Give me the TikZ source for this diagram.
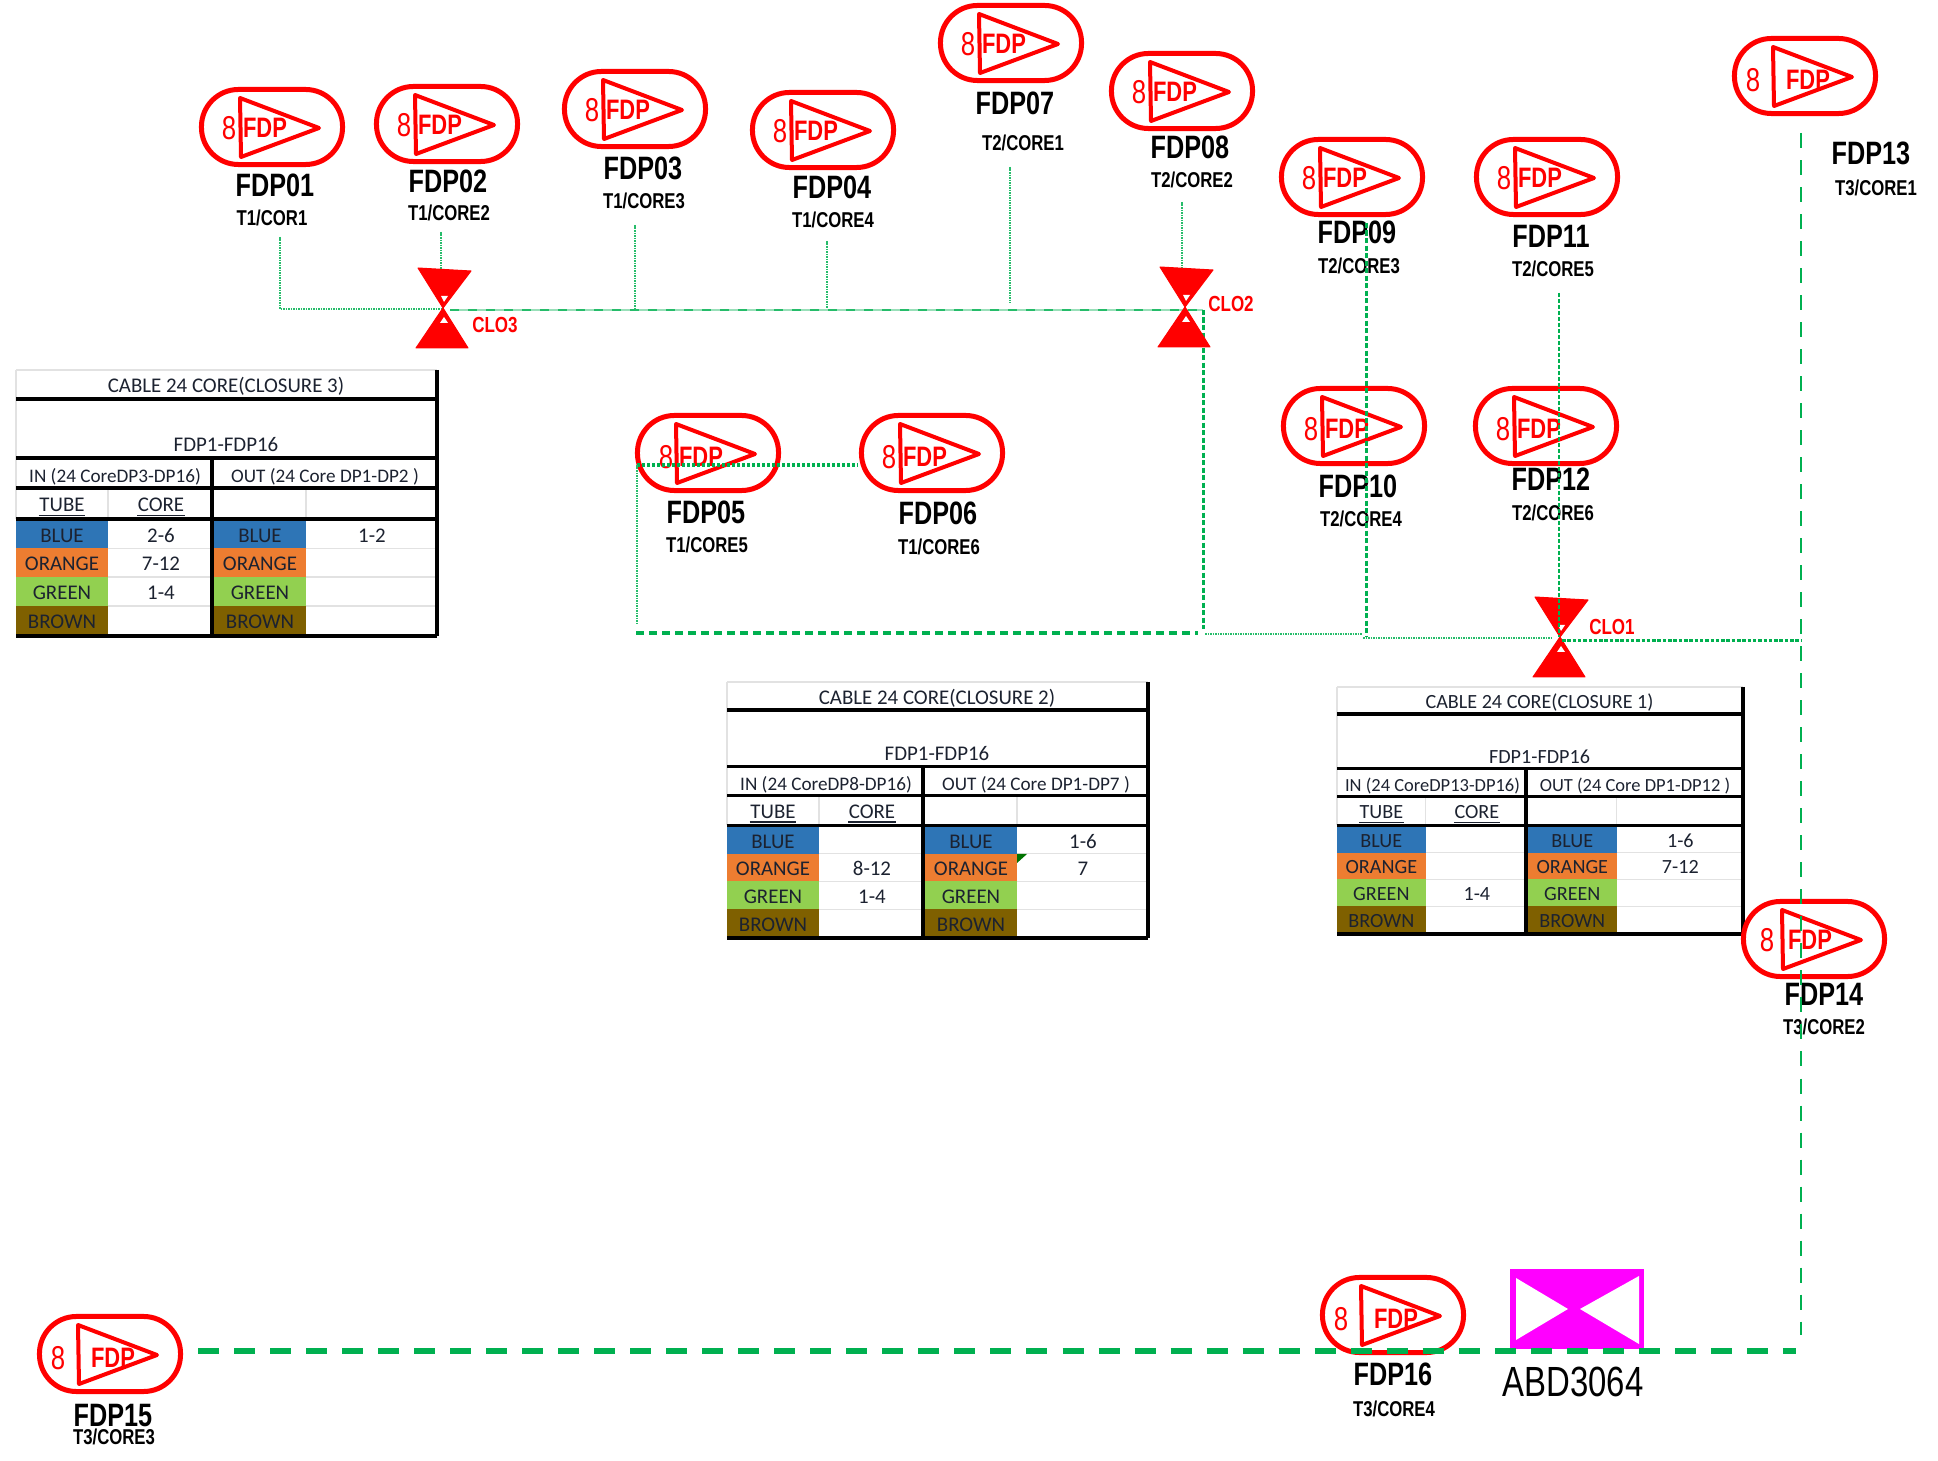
\documentclass[tikz,border=0pt]{standalone}
\usepackage{fontspec}
\setmainfont{Liberation Sans}
\newfontfamily\fdpfont[FakeStretch=0.78]{Liberation Sans}
\newfontfamily\tabfont{Carlito}
\usetikzlibrary{calc}
\definecolor{wiregreen}{RGB}{0,176,80}
\definecolor{tubeblue}{RGB}{46,117,182}
\definecolor{tubeorange}{RGB}{237,125,49}
\definecolor{tubegreen}{RGB}{146,208,80}
\definecolor{tubebrown}{RGB}{127,96,0}
\definecolor{tabtext}{RGB}{28,34,48}
\definecolor{tabgrid}{RGB}{226,226,226}
\definecolor{abdpink}{RGB}{255,0,255}
\tikzset{
    fdppill/.style={draw=red, line width=0.05cm, rounded corners=0.37cm, minimum width=1.41cm, minimum height=0.75cm, inner sep=0, outer sep=0},
    fdpmark/.style={draw=red, line width=0.04cm, line join=round},
    fdplabel/.style={font=\fdpfont\bfseries\fontsize{9.2}{10}\selectfont, inner sep=0},
    fdpsub/.style={font=\fdpfont\bfseries\fontsize{6.1}{7}\selectfont, inner sep=0},
    clolabel/.style={font=\fdpfont\bfseries\fontsize{6.2}{7}\selectfont, text=red, inner sep=0},
    finewire/.style={draw=wiregreen!85!white, line width=0.026cm, dash pattern=on 0.016cm off 0.009cm},
    basewire/.style={draw=wiregreen!40!white, line width=0.016cm},
    tapewire/.style={draw=wiregreen!85!white, line width=0.016cm, dash pattern=on 0.09cm off 0.09cm},
    dotwire/.style={draw=wiregreen, line width=0.03cm, dash pattern=on 0.05cm off 0.025cm},
    thinwire/.style={draw=wiregreen, line width=0.018cm, dash pattern=on 0.04cm off 0.02cm},
    heavywire/.style={draw=wiregreen, line width=0.045cm, dash pattern=on 0.08cm off 0.05cm},
    feedwire/.style={draw=wiregreen, line width=0.02cm, dash pattern=on 0.15cm off 0.12cm},
    trunkwire/.style={draw=wiregreen, line width=0.05cm, dash pattern=on 0.21cm off 0.15cm},
    tabline/.style={draw=black, line width=0.033cm},
    tabfaint/.style={draw=tabgrid, line width=0.012cm},
    tabcell/.style={anchor=base, inner sep=0, text=tabtext},
    tabunder/.style={draw=tabtext, line width=0.012cm},
}

% closure symbol: name, x, y
\newcommand{\closure}[3]{
    \node[inner sep=0, minimum size=0] (#1) at (#2, #3) {};
    \begin{scope}[shift={(#2, #3)}]
        \fill[red, draw=red, line width=0.01cm, line join=round] (-25,-40) -- (28,-37) -- (0,0) -- (25,40) -- (-27,40) -- (0,0) -- cycle;
        \fill[white] (-2,-12) -- (5,-12) -- (1,-6) -- cycle;
        \fill[white] (1,9) -- (5,15) -- (-3,15) -- cycle;
    \end{scope}
}

% cable table: x, y, xscale, yscale, closure, in, out, in cores, out cores
\newcommand{\cabletab}[9]{
    \begin{scope}[shift={(#1, #2)}, xscale=#3, yscale=#4]
        \pgfmathsetmacro{\tabfs}{5.94*#3}
        \pgfmathsetmacro{\tabsm}{5.45*#3}
        \tikzset{every node/.append style={font=\tabfont\fontsize{\tabfs}{\tabfs}\selectfont}}
        % colours
        \foreach \cx in {0, 198}{
            \fill[tubeblue] (\cx,149) rectangle (\cx+92,178.5);
            \fill[tubeorange] (\cx,178.5) rectangle (\cx+92,207);
            \fill[tubegreen] (\cx,207) rectangle (\cx+92,236);
            \fill[tubebrown] (\cx,236) rectangle (\cx+92,266);
        }
        % faint grid
        \draw[tabfaint] (0,0) -- (421,0) (0,0) -- (0,149);
        \draw[tabfaint] (92,118) -- (92,149) (290,118) -- (290,149);
        \foreach \ry in {178.5, 207, 236}{
            \draw[tabfaint] (92,\ry) -- (196,\ry) (290,\ry) -- (421,\ry);
        }
        % black rules
        \foreach \ry in {29, 88, 118, 149, 266}{
            \draw[tabline] (0,\ry) -- (421,\ry);
        }
        \draw[tabline] (196,88) -- (196,266) (421,0) -- (421,266);
        % texts
        \node[tabcell] (clo#5title) at (210,23) {CABLE 24 CORE(CLOSURE #5)};
        \node[tabcell] (clo#5span) at (210,82) {FDP1-FDP16};
        \node[tabcell, font=\tabfont\fontsize{\tabsm}{\tabsm}\selectfont] (clo#5in) at (99,113) {#6};
        \node[tabcell, font=\tabfont\fontsize{\tabsm}{\tabsm}\selectfont] (clo#5out) at (309,113) {#7};
        \node[tabcell] (clo#5tube) at (46,142) {TUBE};
        \node[tabcell] (clo#5core) at (145,142) {CORE};
        \draw[tabunder] ($(clo#5tube.base west)+(0,3.5)$) -- ($(clo#5tube.base east)+(0,3.5)$);
        \draw[tabunder] ($(clo#5core.base west)+(0,3.5)$) -- ($(clo#5core.base east)+(0,3.5)$);
        \foreach \tname/\ty [count=\ti] in {BLUE/173, ORANGE/201, GREEN/230, BROWN/259}{
            \node[tabcell] (clo#5a\ti) at (46,\ty) {\tname};
            \node[tabcell] (clo#5b\ti) at (244,\ty) {\tname};
        }
        \foreach \cval/\ty [count=\ti] in {#8}{
            \node[tabcell] (clo#5c\ti) at (145,\ty) {\cval};
        }
        \foreach \cval/\ty [count=\ti] in {#9}{
            \node[tabcell] (clo#5d\ti) at (356,\ty) {\cval};
        }
    \end{scope}
}

\begin{document}
\begin{tikzpicture}[x=0.01cm, y=-0.01cm]
    \useasboundingbox (0,0) rectangle (1938,1461);

    % TABLES
    \cabletab{16}{370}{1}{1}{3}{IN (24 CoreDP3-DP16)}{OUT (24 Core DP1-DP2 )}{2-6/173, 7-12/201, 1-4/230}{1-2/173}
    \cabletab{727}{682}{1}{0.9624}{2}{IN (24 CoreDP8-DP16)}{OUT (24 Core DP1-DP7 )}{8-12/201, 1-4/230}{1-6/173, 7/201}
    \cabletab{1337}{687}{0.9644}{0.9286}{1}{IN (24 CoreDP13-DP16)}{OUT (24 Core DP1-DP12 )}{1-4/230}{1-6/173, 7-12/201}
    \fill[green!45!black] (1017,854) -- (1027,854) -- (1017,863) -- cycle;

    % FDP SYMBOLS
    \foreach \name/\x/\y/\lx/\ly/\sx/\sy/\sub/\tx/\ex/\ty in {
        FDP01/272/127/275/185/272/218/T1\slash COR1/-7/-43/1,
        FDP02/447/124/448/181/449/213/T1\slash CORE2/-7/-43/1,
        FDP03/635/109/643/168/644/201/T1\slash CORE3/-7/-43/1,
        FDP04/823/130/832/187/833/220/T1\slash CORE4/-7/-43/1,
        FDP05/708/453/706/512/707/545/T1\slash CORE5/-7/-42/4,
        FDP06/932/453/938/513/939/547/T1\slash CORE6/-7/-43/4,
        FDP07/1011/43/1015/103/1023/143/T2\slash CORE1/-7/-43/1,
        FDP08/1182/91/1190/147/1192/180/T2\slash CORE2/-7/-43/1,
        FDP09/1352/177/1357/232/1359/266/T2\slash CORE3/-7/-43/1,
        FDP10/1354/426/1358/486/1361/519/T2\slash CORE4/-7/-43/3,
        FDP11/1547/177/1551/236/1553/269/T2\slash CORE5/-7/-43/1,
        FDP12/1546/426/1551/479/1553/513/T2\slash CORE6/-7/-43/3,
        FDP13/1805/76/1871/153/1876/188/T3\slash CORE1/3/-52/4,
        FDP14/1814/939/1824/994/1824/1027/T3\slash CORE2/-4/-47/1,
        FDP15/110/1354/113/1416/114/1437/T3\slash CORE3/3/-52/4,
        FDP16/1393/1315/1393/1374/1394/1409/T3\slash CORE4/3/-52/4}{
        \node[fdppill] (\name) at (\x, \y) {};
        \begin{scope}[shift={(\x, \y)}]
            \draw[fdpmark] (-32,-29) -- (-31,30) -- (47,1) -- cycle;
            \node[inner sep=0, text=red, font=\fdpfont\bfseries\fontsize{8}{9}\selectfont] (\name t) at (\tx,\ty) {FDP};
            \node[inner sep=0, text=red, font=\fdpfont\fontsize{9.4}{10}\selectfont] (\name e) at (\ex,\ty) {8};
        \end{scope}
        \node[fdplabel] (\name l) at (\lx, \ly) {\name};
        \node[fdpsub] (\name s) at (\sx, \sy) {\sub};
    }

    % WIRE ENDS
    \coordinate (e01) at (280,237);
    \coordinate (c3) at (443,309);
    \coordinate (e02) at (441,232);
    \coordinate (e02b) at (441,272);
    \coordinate (e03) at (635,225);
    \coordinate (e03b) at (635,308);
    \coordinate (e04) at (827,241);
    \coordinate (e04b) at (827,309);
    \coordinate (e07) at (1010,167);
    \coordinate (e07b) at (1010,303);
    \coordinate (e08) at (1182,202);
    \coordinate (e08b) at (1182,268);
    \coordinate (j3) at (450,310);
    \coordinate (j2) at (1203,310);
    \coordinate (j2b) at (1203,629);
    \coordinate (b1) at (636,633);
    \coordinate (b2) at (1198,633);
    \coordinate (b3) at (1205,634);
    \coordinate (b4) at (1362,634);
    \coordinate (e05) at (637,465);
    \coordinate (e05b) at (637,623);
    \coordinate (e06) at (858,465);
    \coordinate (e09) at (1366,223);
    \coordinate (j9) at (1366,637);
    \coordinate (j9b) at (1363,638);
    \coordinate (j1) at (1553,638);
    \coordinate (j1b) at (1562,641);
    \coordinate (e11) at (1559,293);
    \coordinate (e11b) at (1559,637);
    \coordinate (j13) at (1801,641);
    \coordinate (e13) at (1801,133);
    \coordinate (e13b) at (1801,1335);
    \coordinate (t1) at (198,1351);
    \coordinate (t2) at (1796,1351);

    % FIBRE
    \draw[finewire] (e01) |- (c3);
    \draw[finewire] (e02) -- (e02b);
    \draw[finewire] (e03) -- (e03b);
    \draw[finewire] (e04) -- (e04b);
    \draw[finewire] (e07) -- (e07b);
    \draw[finewire] (e08) -- (e08b);
    \draw[basewire] (j3) -- (j2);
    \draw[tapewire] (j3) -- (j2);
    \draw[dotwire] (j2) -- (j2b);
    \draw[heavywire] (b1) -- (b2);
    \draw[finewire] (b3) -- (b4);
    \draw[dotwire, line width=0.04cm, dash pattern=on 0.03cm off 0.02cm] (e05) -- (e06);
    \draw[finewire] (e05) -- (e05b);
    \draw[dotwire] (e09) -- (j9);
    \draw[finewire] (j9b) -- (j1);
    \draw[feedwire] (e13) -- (e13b);

    % CLOSURES
    \closure{clo3}{443}{308}
    \closure{clo2}{1185}{307}
    \closure{clo1}{1560}{637}
    \node[clolabel] (clo3l) at (495,325) {CLO3};
    \node[clolabel] (clo2l) at (1231,304) {CLO2};
    \node[clolabel] (clo1l) at (1612,627) {CLO1};
    \draw[thinwire] (e11) -- (e11b);
    \draw[dotwire, dash pattern=on 0.035cm off 0.018cm] (j1b) -- (j13);

    % ABD
    \fill[abdpink] (1510,1269) rectangle (1644,1349);
    \fill[white] (1516,1278) -- (1568,1309) -- (1516,1340) -- cycle;
    \fill[white] (1639,1276) -- (1580,1309) -- (1639,1344) -- cycle;
    \draw[trunkwire] (t1) -- (t2);
    \node[inner sep=0, font=\fdpfont\fontsize{12}{13}\selectfont] (abd) at (1573,1382) {ABD3064};

\end{tikzpicture}
\end{document}
